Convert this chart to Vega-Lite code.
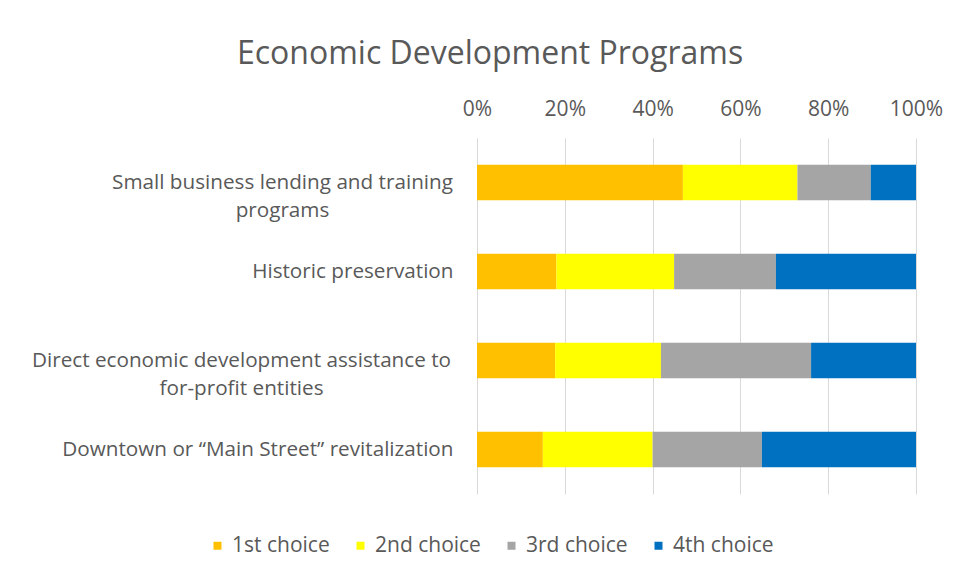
{
  "$schema": "https://vega.github.io/schema/vega-lite/v6.json",
  "autosize": "none",
  "width": 439,
  "height": 356,
  "padding": {"left": 477, "top": 138, "right": 47, "bottom": 87},
  "background": "white",
  "title": {
    "text": "Economic Development Programs",
    "font": "Open Sans",
    "fontSize": 32,
    "fontWeight": "normal",
    "color": "#595959",
    "anchor": "middle",
    "frame": "bounds",
    "offset": 27,
    "dx": 3
  },
  "data": {
    "values": [
      {"program": "Small business lending and training programs", "choice": "1st choice", "rank": 1, "share": 0.469},
      {"program": "Small business lending and training programs", "choice": "2nd choice", "rank": 2, "share": 0.261},
      {"program": "Small business lending and training programs", "choice": "3rd choice", "rank": 3, "share": 0.167},
      {"program": "Small business lending and training programs", "choice": "4th choice", "rank": 4, "share": 0.103},
      {"program": "Historic preservation", "choice": "1st choice", "rank": 1, "share": 0.181},
      {"program": "Historic preservation", "choice": "2nd choice", "rank": 2, "share": 0.268},
      {"program": "Historic preservation", "choice": "3rd choice", "rank": 3, "share": 0.232},
      {"program": "Historic preservation", "choice": "4th choice", "rank": 4, "share": 0.319},
      {"program": "Direct economic development assistance to for-profit entities", "choice": "1st choice", "rank": 1, "share": 0.178},
      {"program": "Direct economic development assistance to for-profit entities", "choice": "2nd choice", "rank": 2, "share": 0.241},
      {"program": "Direct economic development assistance to for-profit entities", "choice": "3rd choice", "rank": 3, "share": 0.342},
      {"program": "Direct economic development assistance to for-profit entities", "choice": "4th choice", "rank": 4, "share": 0.239},
      {"program": "Downtown or “Main Street” revitalization", "choice": "1st choice", "rank": 1, "share": 0.150},
      {"program": "Downtown or “Main Street” revitalization", "choice": "2nd choice", "rank": 2, "share": 0.250},
      {"program": "Downtown or “Main Street” revitalization", "choice": "3rd choice", "rank": 3, "share": 0.249},
      {"program": "Downtown or “Main Street” revitalization", "choice": "4th choice", "rank": 4, "share": 0.351}
    ]
  },
  "mark": {"type": "bar"},
  "encoding": {
    "y": {
      "field": "program",
      "type": "nominal",
      "sort": null,
      "title": null,
      "scale": {"paddingInner": 0.6, "paddingOuter": 0.3},
      "axis": {
        "orient": "left",
        "domain": false,
        "ticks": false,
        "grid": false,
        "labelFont": "Open Sans",
        "labelFontSize": 20.7,
        "labelColor": "#595959",
        "labelLimit": 600,
        "labelLineHeight": 28,
        "labelExpr": "datum.label == 'Small business lending and training programs' ? ['Small business lending and training', 'programs'] : datum.label == 'Direct economic development assistance to for-profit entities' ? ['Direct economic development assistance to', 'for-profit entities'] : datum.label",
        "labelAlign": {
          "condition": {"test": "datum.value == 'Historic preservation' || datum.value == 'Downtown or “Main Street” revitalization'", "value": "right"},
          "value": "center"
        },
        "labelPadding": {
          "condition": [
            {"test": "datum.value == 'Small business lending and training programs'", "value": 195},
            {"test": "datum.value == 'Direct economic development assistance to for-profit entities'", "value": 236}
          ],
          "value": 24
        }
      }
    },
    "x": {
      "field": "share",
      "type": "quantitative",
      "stack": "normalize",
      "title": null,
      "scale": {"domain": [0, 1], "nice": false},
      "axis": {
        "orient": "top",
        "format": ".0%",
        "values": [0, 0.2, 0.4, 0.6, 0.8, 1],
        "domain": false,
        "ticks": false,
        "grid": true,
        "gridColor": "#d9d9d9",
        "gridWidth": 1,
        "labelFlush": false,
        "labelFont": "Open Sans",
        "labelFontSize": 21,
        "labelColor": "#595959",
        "labelPadding": 19
      }
    },
    "color": {
      "field": "choice",
      "type": "nominal",
      "scale": {
        "domain": ["1st choice", "2nd choice", "3rd choice", "4th choice"],
        "range": ["#FFC000", "#FFFF00", "#A5A5A5", "#0070C0"]
      },
      "legend": {
        "orient": "none",
        "legendX": -270,
        "legendY": 397,
        "direction": "horizontal",
        "columns": 4,
        "title": null,
        "symbolType": "square",
        "symbolSize": 64,
        "symbolStrokeWidth": 0,
        "labelFont": "Open Sans",
        "labelFontSize": 21,
        "labelColor": "#595959",
        "columnPadding": 20,
        "labelOffset": 4
      }
    },
    "order": {"field": "rank", "type": "quantitative"}
  },
  "config": {
    "view": {"stroke": null}
  }
}
